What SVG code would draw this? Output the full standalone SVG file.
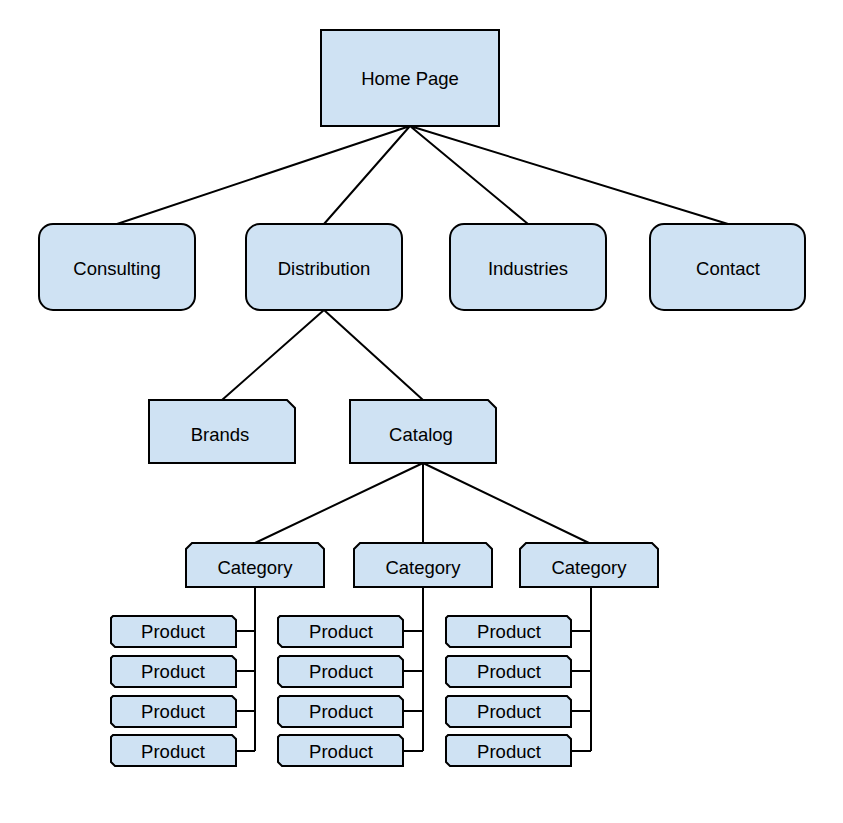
<svg xmlns="http://www.w3.org/2000/svg" width="843" height="823" viewBox="0 0 843 823">
<style>
.n{fill:#cfe2f3;stroke:#000;stroke-width:2}
.t{font-family:"Liberation Sans",Arial,sans-serif;font-size:18.5px;fill:#000;text-anchor:middle;dominant-baseline:central}
.c{fill:none;stroke:#000;stroke-width:2}
</style>
<defs>
<path id="prod" d="M2,0 H121 L125,4 V31 H4 L0,27 V2 Z"/>
<path id="cat" d="M6,0 H132 L138,6 V44 H0 V6 Z"/>
<path id="doc" d="M0,0 H138 L146,8 V63 H0 Z"/>
</defs>
<rect width="843" height="823" fill="#fff"/>
<g id="connectors" class="c">
<path d="M410,126 L117,224 M410,126 L324,224 M410,126 L528,224 M410,126 L728,224"/>
<path d="M324,310 L222,400 M324,310 L423,400"/>
<path d="M423,463 L255,543 M423,463 L423,543 M423,463 L589,543"/>
<path d="M255,587 V751 M236,631 H255 M236,671 H255 M236,711 H255 M236,751 H255"/>
<path d="M423,587 V751 M403,631 H423 M403,671 H423 M403,711 H423 M403,751 H423"/>
<path d="M591,587 V751 M571,631 H591 M571,671 H591 M571,711 H591 M571,751 H591"/>
</g>
<g id="home"><rect class="n" x="321" y="30" width="178" height="96"/><text class="t" x="410" y="78.5">Home Page</text></g>
<g id="consulting"><rect class="n" x="39" y="224" width="156" height="86" rx="14"/><text class="t" x="117" y="268.5">Consulting</text></g>
<g id="distribution"><rect class="n" x="246" y="224" width="156" height="86" rx="14"/><text class="t" x="324" y="268.5">Distribution</text></g>
<g id="industries"><rect class="n" x="450" y="224" width="156" height="86" rx="14"/><text class="t" x="528" y="268.5">Industries</text></g>
<g id="contact"><rect class="n" x="650" y="224" width="155" height="86" rx="14"/><text class="t" x="728" y="268.5">Contact</text></g>
<g id="brands"><use href="#doc" class="n" x="149" y="400"/><text class="t" x="220" y="434.5">Brands</text></g>
<g id="catalog"><use href="#doc" class="n" x="350" y="400"/><text class="t" x="421" y="434.5">Catalog</text></g>
<g id="category1"><use href="#cat" class="n" x="186" y="543"/><text class="t" x="255" y="567.5">Category</text></g>
<g id="category2"><use href="#cat" class="n" x="354" y="543"/><text class="t" x="423" y="567.5">Category</text></g>
<g id="category3"><use href="#cat" class="n" x="520" y="543"/><text class="t" x="589" y="567.5">Category</text></g>
<g id="p1a"><use href="#prod" class="n" x="111" y="616"/><text class="t" x="173" y="631.5">Product</text></g>
<g id="p1b"><use href="#prod" class="n" x="111" y="656"/><text class="t" x="173" y="671.5">Product</text></g>
<g id="p1c"><use href="#prod" class="n" x="111" y="696"/><text class="t" x="173" y="711.5">Product</text></g>
<g id="p1d"><use href="#prod" class="n" x="111" y="735"/><text class="t" x="173" y="751.5">Product</text></g>
<g id="p2a"><use href="#prod" class="n" x="278" y="616"/><text class="t" x="341" y="631.5">Product</text></g>
<g id="p2b"><use href="#prod" class="n" x="278" y="656"/><text class="t" x="341" y="671.5">Product</text></g>
<g id="p2c"><use href="#prod" class="n" x="278" y="696"/><text class="t" x="341" y="711.5">Product</text></g>
<g id="p2d"><use href="#prod" class="n" x="278" y="735"/><text class="t" x="341" y="751.5">Product</text></g>
<g id="p3a"><use href="#prod" class="n" x="446" y="616"/><text class="t" x="509" y="631.5">Product</text></g>
<g id="p3b"><use href="#prod" class="n" x="446" y="656"/><text class="t" x="509" y="671.5">Product</text></g>
<g id="p3c"><use href="#prod" class="n" x="446" y="696"/><text class="t" x="509" y="711.5">Product</text></g>
<g id="p3d"><use href="#prod" class="n" x="446" y="735"/><text class="t" x="509" y="751.5">Product</text></g>
</svg>
